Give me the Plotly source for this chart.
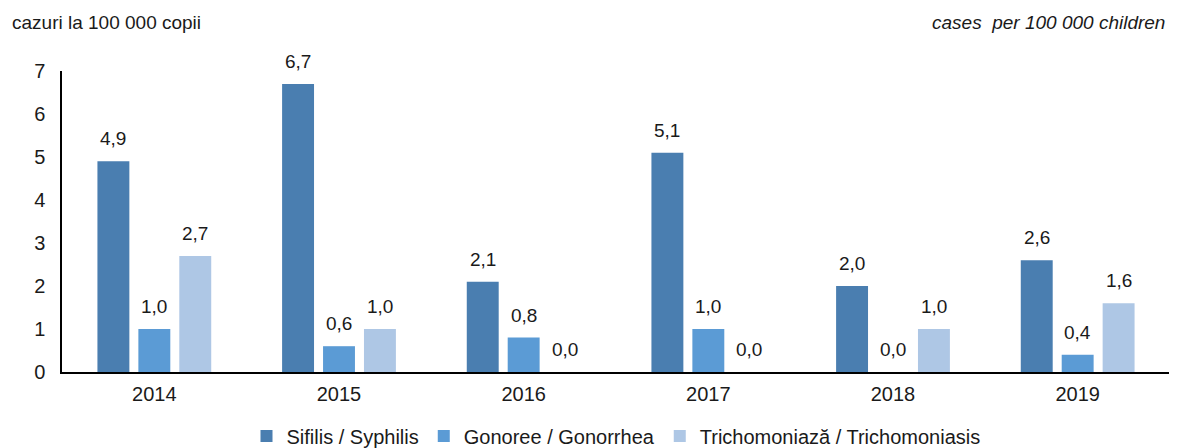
import plotly.graph_objects as go

years = ["2014", "2015", "2016", "2017", "2018", "2019"]
sifilis = [4.9, 6.7, 2.1, 5.1, 2.0, 2.6]
gonoree = [1.0, 0.6, 0.8, 1.0, 0.0, 0.4]
trichomoniaza = [2.7, 1.0, 0.0, 0.0, 1.0, 1.6]

series_names = ["Sifilis / Syphilis", "Gonoree / Gonorrhea", "Trichomoniază / Trichomoniasis"]
series_colors = ["#4A7EB0", "#5B9BD5", "#AEC7E5"]

font_name = "Liberation Sans, Arial, sans-serif"
# page body has an 8px margin, so the figure is drawn 8px smaller
W, H = 1169, 440
L, R, T, B = 54, 7, 63, 76
plot_w = W - L - R
plot_h = H - T - B
bargap = 0.335
slot = plot_w / len(years) * (1 - bargap) / 3

fig = go.Figure()
annots = []
for k, (name, vals, col) in enumerate(zip(series_names, [sifilis, gonoree, trichomoniaza], series_colors)):
    fig.add_trace(go.Bar(
        x=years, y=vals, name=name,
        marker=dict(color=col, line=dict(width=0)),
        cliponaxis=False,
    ))
    # value labels above each bar (x = category index)
    for i, v in enumerate(vals):
        annots.append(dict(
            x=i, y=v, xref="x", yref="y", text=f"{v:.1f}".replace(".", ","),
            showarrow=False, xanchor="center", yanchor="bottom",
            xshift=(k - 1) * slot, yshift=10,
            font=dict(size=19, color="#1a1a1a"),
        ))

annots += [
    dict(text="cazuri la 100 000 copii", xref="paper", yref="paper", x=(2 - L) / plot_w,
         y=1, yshift=49, xanchor="left", yanchor="middle", showarrow=False,
         font=dict(size=19)),
    dict(text="<i>cases  per 100 000 children</i>", xref="paper", yref="paper", x=1,
         y=1, yshift=49, xshift=-3, xanchor="right", yanchor="middle", showarrow=False,
         font=dict(size=19)),
]

fig.update_layout(
    width=W, height=H,
    paper_bgcolor="white", plot_bgcolor="white",
    margin=dict(l=L, r=R, t=T, b=B, autoexpand=False),
    barmode="group", bargap=bargap, bargroupgap=0.22,
    font=dict(family=font_name, size=20, color="#1a1a1a"),
    showlegend=True,
    legend=dict(orientation="h", x=0.5, xanchor="center", y=-64 / plot_h, yanchor="middle",
                font=dict(size=20), itemwidth=30),
    xaxis=dict(type="category", range=[-0.5, len(years) - 0.5], showline=True,
               linecolor="black", linewidth=1.5, ticks="",
               showgrid=False, tickfont=dict(size=20), ticklabelstandoff=3),
    yaxis=dict(range=[0, 7], dtick=1, showline=True, linecolor="black", linewidth=1.5,
               showgrid=False, zeroline=False, ticks="", ticklabelstandoff=11,
               tickfont=dict(size=20)),
    annotations=annots,
)

fig.write_html("out.html")
